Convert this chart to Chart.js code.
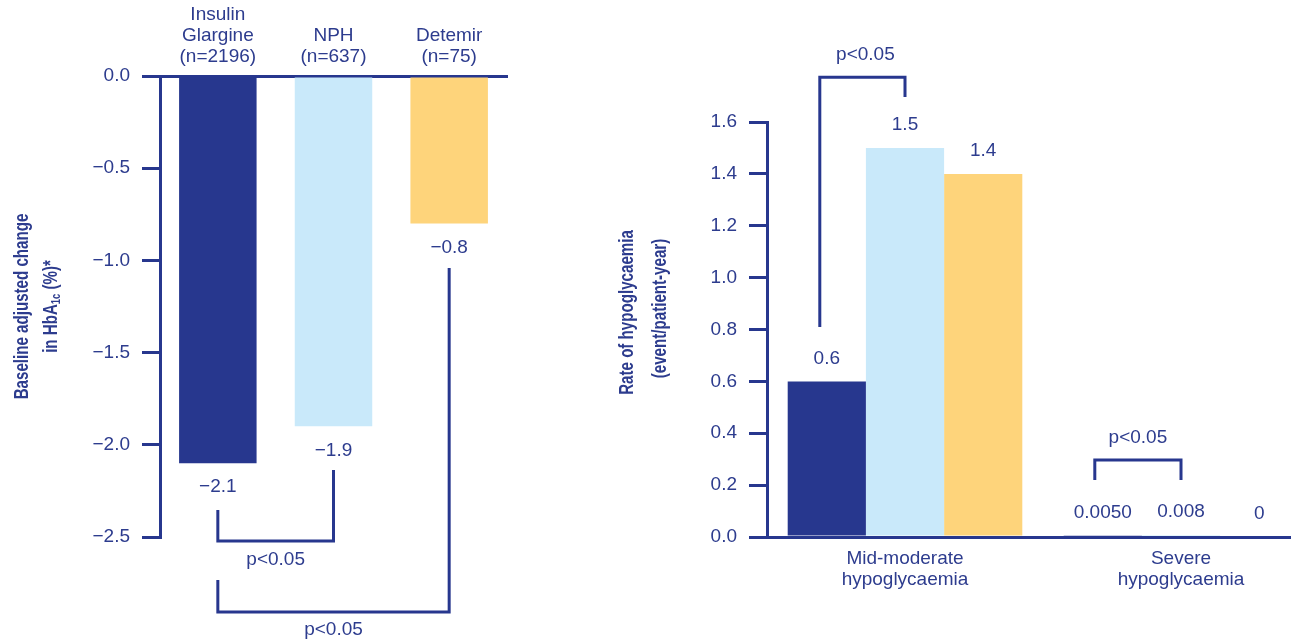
<!DOCTYPE html>
<html>
<head>
<meta charset="utf-8">
<script src="https://cdn.jsdelivr.net/npm/chart.js@4.4.1/dist/chart.umd.min.js"></script>
<style>
  html, body { margin: 0; padding: 0; background: #fff; overflow: hidden; width: 1291px; height: 641px; }
  #hba1c { position: absolute; left: 0; top: 0; }
  #hypo { position: absolute; left: 560px; top: 0; }
</style>
</head>
<body>
<canvas id="hba1c" width="600" height="641"></canvas>
<canvas id="hypo" width="770" height="641"></canvas>
<script>
// Data - left chart (HbA1c change)
const treatments = [["Insulin", "Glargine", "(n=2196)"], ["NPH", "(n=637)"], ["Detemir", "(n=75)"]];
const hba1cChange = [-2.1, -1.9, -0.8];

// Data - right chart (hypoglycaemia rate)
const hypoTypes = [["Mid-moderate", "hypoglycaemia"], ["Severe", "hypoglycaemia"]];
const seriesNames = ["Insulin Glargine", "NPH", "Detemir"];
const glargineRate = [0.6, 0.005];
const nphRate = [1.5, 0.008];
const detemirRate = [1.4, 0];
const glargineRateText = ["0.6", "0.0050"];
const nphRateText = ["1.5", "0.008"];
const detemirRateText = ["1.4", "0"];

const NAVY = "#27378e";
const LIGHT = "#c9e9fa";
const GOLD = "#fed47b";
const TEXT = "#2d3c8e";
const FAMILY = "'Liberation Sans', Arial, sans-serif";

function fmtMinus(v) {
    if (v === 0) return "0.0";
    return (v < 0 ? "\u2212" : "") + Math.abs(v).toFixed(1);
}

// value labels over / under bars
const valueLabels = {
    id: "valueLabels",
    afterDatasetsDraw(chart, args, opts) {
        const ctx = chart.ctx;
        ctx.save();
        ctx.font = "19px " + FAMILY;
        ctx.fillStyle = TEXT;
        ctx.textAlign = "center";
        ctx.textBaseline = "middle";
        chart.data.datasets.forEach((ds, di) => {
            chart.getDatasetMeta(di).data.forEach((bar, i) => {
                const txt = opts.texts ? opts.texts[di][i] : fmtMinus(ds.data[i]);
                ctx.fillText(txt, bar.x, bar.y + opts.offset);
            });
        });
        ctx.restore();
    }
};

// significance brackets
const brackets = {
    id: "brackets",
    afterDatasetsDraw(chart, args, opts) {
        const ctx = chart.ctx;
        const y = chart.scales.y;
        ctx.save();
        ctx.strokeStyle = NAVY;
        ctx.lineWidth = 3;
        ctx.lineJoin = "miter";
        ctx.font = "19px " + FAMILY;
        ctx.fillStyle = TEXT;
        ctx.textAlign = "center";
        ctx.textBaseline = "middle";
        (opts.items || []).forEach(b => {
            const xa = chart.getDatasetMeta(b.a[0]).data[b.a[1]].x + (b.dxA || 0);
            const xb = chart.getDatasetMeta(b.b[0]).data[b.b[1]].x + (b.dxB || 0);
            const yb = y.getPixelForValue(b.yBar);
            ctx.beginPath();
            ctx.moveTo(xa, y.getPixelForValue(b.yA));
            ctx.lineTo(xa, yb);
            ctx.lineTo(xb, yb);
            ctx.lineTo(xb, y.getPixelForValue(b.yB));
            ctx.stroke();
            ctx.fillText(b.text, (xa + xb) / 2 + (b.dxText || 0), y.getPixelForValue(b.yText));
        });
        ctx.restore();
    }
};

// condensed bold rotated axis title, with optional subscript parts
const axisTitle = {
    id: "axisTitle",
    afterDraw(chart, args, opts) {
        const ctx = chart.ctx;
        const area = chart.chartArea;
        const midY = (area.top + area.bottom) / 2;
        (opts.lines || []).forEach(line => {
            ctx.save();
            ctx.translate(area.left + line.dx, midY + line.dy);
            ctx.rotate(-Math.PI / 2);
            ctx.scale(opts.squeeze, 1);
            ctx.fillStyle = TEXT;
            ctx.textBaseline = "middle";
            ctx.textAlign = "left";
            let total = 0;
            line.parts.forEach(p => {
                ctx.font = "bold " + (p[1] ? 13 : 21) + "px " + FAMILY;
                total += ctx.measureText(p[0]).width;
            });
            let x = -total / 2;
            line.parts.forEach(p => {
                ctx.font = "bold " + (p[1] ? 13 : 21) + "px " + FAMILY;
                ctx.fillText(p[0], x, p[1] ? 5 : 0);
                x += ctx.measureText(p[0]).width;
            });
            ctx.restore();
        });
    }
};

const tickFont = { family: FAMILY, size: 19, lineHeight: 1.1 };

// Left chart
new Chart(document.getElementById("hba1c"), {
    type: "bar",
    data: {
        labels: treatments,
        datasets: [{
            data: hba1cChange,
            backgroundColor: [NAVY, LIGHT, GOLD],
            barPercentage: 0.67,
            categoryPercentage: 1
        }]
    },
    options: {
        responsive: false,
        animation: false,
        devicePixelRatio: 1,
        layout: { padding: { left: 0, right: 93, top: 0, bottom: 104 } },
        plugins: {
            legend: { display: false },
            tooltip: { enabled: false },
            valueLabels: { offset: 24 },
            brackets: {
                items: [
                    { a: [0, 0], b: [0, 1], yA: -2.354, yB: -2.137, yBar: -2.522, yText: -2.625, text: "p<0.05" },
                    { a: [0, 0], b: [0, 2], yA: -2.733, yB: -1.041, yBar: -2.907, yText: -3.004, text: "p<0.05" }
                ]
            },
            axisTitle: {
                squeeze: 0.72,
                lines: [
                    { dx: -138, dy: 0, parts: [["Baseline adjusted change", false]] },
                    { dx: -109, dy: 0, parts: [["in HbA", false], ["1c", true], [" (%)*", false]] }
                ]
            }
        },
        scales: {
            x: {
                position: "top",
                grid: { display: false },
                border: { display: true, color: NAVY, width: 3 },
                ticks: { color: TEXT, font: tickFont, padding: 1, maxRotation: 0 },
                afterFit: s => { s.height = 76; }
            },
            y: {
                min: -2.5,
                max: 0,
                ticks: { stepSize: 0.5, color: TEXT, font: tickFont, padding: 12, callback: v => fmtMinus(v) },
                grid: { drawOnChartArea: false, drawTicks: true, tickLength: 18, color: NAVY, lineWidth: 3 },
                border: { display: true, color: NAVY, width: 3 },
                afterFit: s => { s.width = 160; }
            }
        }
    },
    plugins: [valueLabels, brackets, axisTitle]
});

// Right chart
new Chart(document.getElementById("hypo"), {
    type: "bar",
    data: {
        labels: hypoTypes,
        datasets: [
            { label: seriesNames[0], data: glargineRate, backgroundColor: NAVY },
            { label: seriesNames[1], data: nphRate, backgroundColor: LIGHT },
            { label: seriesNames[2], data: detemirRate, backgroundColor: GOLD }
        ]
    },
    options: {
        responsive: false,
        animation: false,
        devicePixelRatio: 1,
        datasets: { bar: { barPercentage: 1, categoryPercentage: 0.85 } },
        layout: { padding: { left: 0, right: 11, top: 122, bottom: 0 } },
        plugins: {
            legend: { display: false },
            tooltip: { enabled: false },
            valueLabels: { offset: -23, texts: [glargineRateText, nphRateText, detemirRateText] },
            brackets: {
                items: [
                    { a: [0, 0], b: [1, 0], dxA: -7, yA: 0.81, yB: 1.696, yBar: 1.773, yText: 1.858, dxText: 3, text: "p<0.05" },
                    { a: [0, 1], b: [1, 1], dxA: -8, yA: 0.22, yB: 0.22, yBar: 0.297, yText: 0.382, text: "p<0.05" }
                ]
            },
            axisTitle: {
                squeeze: 0.72,
                lines: [
                    { dx: -140, dy: -17, parts: [["Rate of hypoglycaemia", false]] },
                    { dx: -107, dy: -21, parts: [["(event/patient-year)", false]] }
                ]
            }
        },
        scales: {
            x: {
                grid: { display: false },
                border: { display: true, color: NAVY, width: 3 },
                ticks: { color: TEXT, font: tickFont, padding: 3, maxRotation: 0 },
                afterFit: s => { s.height = 104; }
            },
            y: {
                min: 0,
                max: 1.6,
                ticks: { stepSize: 0.2, color: TEXT, font: tickFont, padding: 12, callback: v => v.toFixed(1) },
                grid: { drawOnChartArea: false, drawTicks: true, tickLength: 18, color: NAVY, lineWidth: 3 },
                border: { display: true, color: NAVY, width: 3 },
                afterFit: s => { s.width = 207; }
            }
        }
    },
    plugins: [valueLabels, brackets, axisTitle]
});
</script>
</body>
</html>
